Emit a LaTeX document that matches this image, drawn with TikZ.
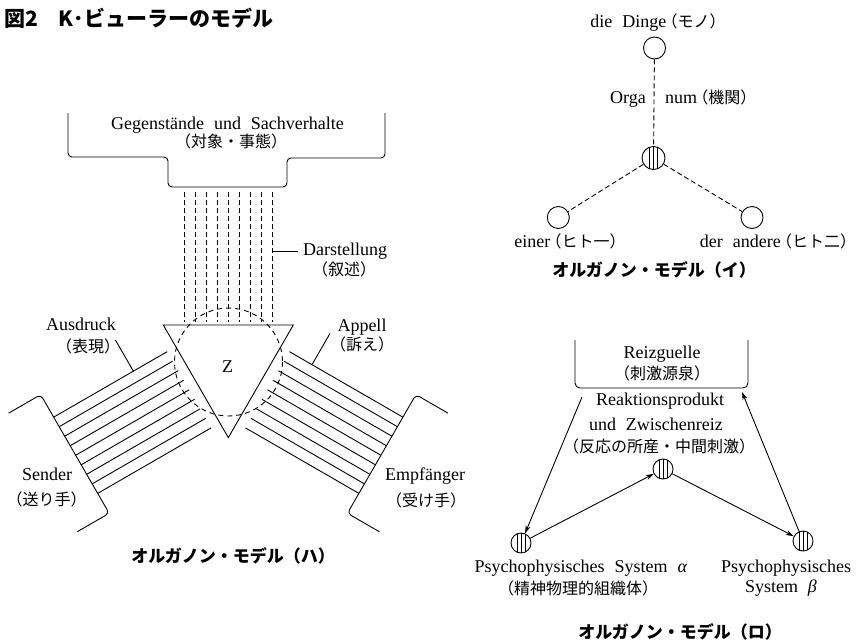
\documentclass[tikz,border=0pt]{standalone}
\usepackage{fontspec}
\setmainfont{Liberation Serif}
\newfontfamily\jp{Noto Sans CJK JP}
\usetikzlibrary{calc,arrows.meta}
\newcommand\jtxt[1]{{\jp\fontsize{16}{20}\selectfont\kern-0.3em #1}}
\newcommand\latfont{\fontsize{18}{22}\selectfont\spaceskip=0.55em plus 0.1em\relax}
\newcommand\jpfont{\jp\fontsize{16}{20}\selectfont}
\newcommand\capfont{\jp\bfseries\fontsize{17}{20}\selectfont}
\newcommand\titlefont{\jp\bfseries\fontsize{21}{24}\selectfont}
\begin{document}
\begin{tikzpicture}[x=1pt,y=-1pt,
  lat/.style={font=\latfont, inner sep=0pt},
  jpl/.style={font=\jpfont, inner sep=0pt},
  captxt/.style={font=\capfont, inner sep=0pt},
  ln/.style={line width=0.9pt},
  dsh/.style={line width=0.9pt, dash pattern=on 5pt off 3pt},
  dshc/.style={line width=0.9pt, dash pattern=on 5pt off 4pt},
  ring/.style={circle, draw, line width=0.9pt, minimum size=22pt, inner sep=0pt},
  hatch/.style={circle, draw, line width=0.9pt, minimum size=#1, inner sep=0pt,
    path picture={\foreach \dx in {-4,0,4}
      \draw[line width=0.8pt] ([xshift=\dx pt]path picture bounding box.north) -- ([xshift=\dx pt]path picture bounding box.south);}},
  arr/.style={line width=0.9pt, -{Stealth[length=8pt,width=5pt]}},
]
\useasboundingbox (0,0) rectangle (856,643);

% ---------- title ----------
\node[anchor=base west, inner sep=0pt, font=\titlefont] (title) at (4,26) {図2　K･ビューラーのモデル};

% ---------- left diagram (ハ) ----------
\coordinate (T1) at (163.3,325);
\coordinate (T2) at (293.3,325);
\coordinate (A) at (228.3,437.6);
\coordinate (ML) at ($(T1)!0.5!(A)$);
\coordinate (MR) at ($(T2)!0.5!(A)$);
\coordinate (MT) at ($(T1)!0.5!(T2)$);

% top box
\draw[ln, rounded corners=4pt] (68,113) -- (68,157) -- (168,157) -- (168,187) -- (287,187) -- (287,158) -- (385,158) -- (385,113);
\node[lat, anchor=base] (gegen) at (227.5,129) {Gegenstände und Sachverhalte};
\node[jpl] (gegenj) at (231,141.5) {（対象・事態）};

% dashed bundle (Darstellung)
\foreach \i in {-4,...,4}
  \draw[dsh] ($(MT)+(0:{11*\i})+(270:133)$) -- ($(MT)+(0:{11*\i})+(270:3)$);
\coordinate (dl1) at (272,251);
\coordinate (dl2) at (298,251);
\draw[ln] (dl1) -- (dl2);
\node[lat, anchor=base west] (darst) at (303,255) {Darstellung};
\node[jpl] (darstj) at (344,269) {（叙述）};

% triangle and circle
\draw[ln] (T1) -- (T2) -- (A) -- cycle;
\draw[dshc] (228.5,362) circle[radius=54];
\node[lat, anchor=base] (z) at (227.5,372) {Z};

% left bundle (Ausdruck)
\foreach \i in {-4,...,4}
  \draw[ln] ($(ML)+(60:{4+11*\i})+(150:10)$) -- ($(ML)+(60:{4+11*\i})+(150:141)$);
\draw[ln, rounded corners=4pt] ($(ML)+(60:-66)+(150:178)$) -- ($(ML)+(60:-66)+(150:141)$) -- ($(ML)+(60:71)+(150:141)$) -- ($(ML)+(60:71)+(150:178)$);
\coordinate (al1) at ($(ML)+(60:-40)+(150:49)$);
\coordinate (al2) at ($(al1)+(240:36)$);
\draw[ln] (al1) -- (al2);
\node[lat, anchor=base] (ausd) at (81,330) {Ausdruck};
\node[jpl] (ausdj) at (88,346) {（表現）};

% right bundle (Appell)
\foreach \i in {-4,...,4}
  \draw[ln] ($(MR)+(120:{4+11*\i})+(30:10)$) -- ($(MR)+(120:{4+11*\i})+(30:141)$);
\draw[ln, rounded corners=4pt] ($(MR)+(120:-66)+(30:178)$) -- ($(MR)+(120:-66)+(30:141)$) -- ($(MR)+(120:71)+(30:141)$) -- ($(MR)+(120:71)+(30:178)$);
\coordinate (pl1) at ($(MR)+(120:-40)+(30:36)$);
\coordinate (pl2) at ($(pl1)+(300:36)$);
\draw[ln] (pl1) -- (pl2);
\node[lat, anchor=base] (appell) at (362,331) {Appell};
\node[jpl] (appellj) at (362,344) {（訴え）};

\node[lat, anchor=base] (sender) at (47,480) {Sender};
\node[jpl] (senderj) at (46.5,499.5) {（送り手）};
\node[lat, anchor=base] (empf) at (425,480) {Empfänger};
\node[jpl] (empfj) at (426,500) {（受け手）};

\node[captxt] (capH) at (233,556) {オルガノン・モデル（ハ）};

% ---------- top right (イ) ----------
\node[lat, anchor=base] (dinge) at (658,27) {die Dinge\jtxt{（モノ）}};
\node[ring] (cd) at (654.5,48) {};
\node[hatch=23pt] (co) at (653.5,158) {};
\node[ring] (ce) at (558.3,217.5) {};
\node[ring] (ca) at (752,217.5) {};
\draw[dsh] (cd) -- (co);
\draw[dsh] (co) -- (ce);
\draw[dsh] (co) -- (ca);
\node[lat, anchor=base east] (orga) at (646,103) {Orga};
\node[lat, anchor=base west] (num) at (665,103) {num\jtxt{（機関）}};
\node[lat, anchor=base] (einer) at (570,247) {einer\jtxt{（ヒト一）}};
\node[lat, anchor=base] (ander) at (778,247) {der andere\jtxt{（ヒト二）}};
\node[captxt] (capI) at (654,270) {オルガノン・モデル（イ）};

% ---------- bottom right (ロ) ----------
\draw[ln, rounded corners=5pt] (575,340) -- (575,388) -- (748,388) -- (748,340);
\node[lat, anchor=base] (reiz) at (662,358) {Reizguelle};
\node[jpl] (reizj) at (662,373) {（刺激源泉）};
\node[lat, anchor=base] (reak1) at (660,405) {Reaktionsprodukt};
\node[lat, anchor=base] (reak2) at (656,430) {und Zwischenreiz};
\node[jpl] (reakj) at (659,446) {（反応の所産・中間刺激）};
\node[hatch=20pt] (hm) at (663,469) {};
\node[hatch=20pt] (ha) at (521,543) {};
\node[hatch=20pt] (hb) at (803,541) {};
\coordinate (bl) at (582,397);
\coordinate (br) at (742,392);
\draw[arr] (bl) -- (ha);
\draw[arr] (ha) -- (hm);
\draw[arr] (hm) -- (hb);
\draw[arr] (hb) -- (br);
\node[lat, anchor=base] (psa) at (581,572) {Psychophysisches System \textit{α}};
\node[jpl] (psaj) at (578,588) {（精神物理的組織体）};
\node[lat, anchor=base] (psb) at (786,572) {Psychophysisches};
\node[lat, anchor=base] (psb2) at (781,592) {System \textit{β}};
\node[captxt] (capR) at (680,632) {オルガノン・モデル（ロ）};
\end{tikzpicture}
\end{document}
